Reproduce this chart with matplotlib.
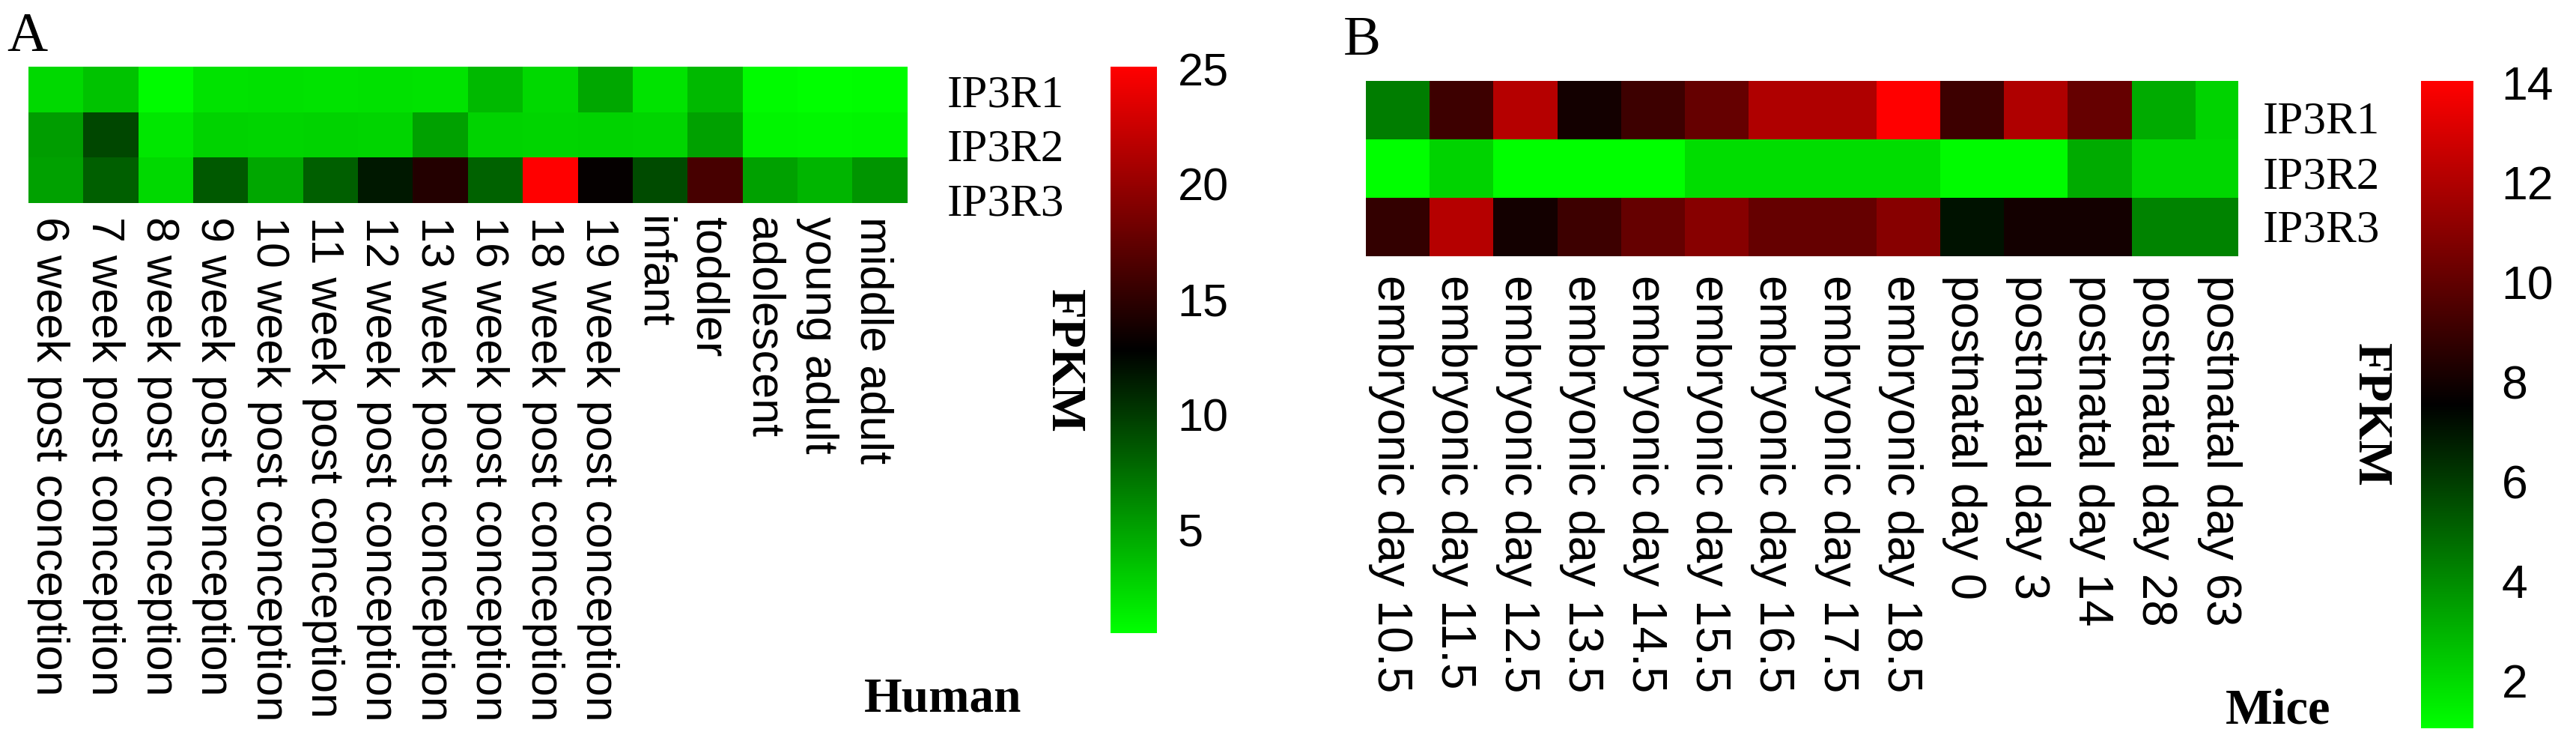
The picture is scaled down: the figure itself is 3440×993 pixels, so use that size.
import numpy as np
import matplotlib
matplotlib.use('Agg')
import matplotlib.pyplot as plt
from matplotlib.colors import LinearSegmentedColormap
from matplotlib.transforms import ScaledTranslation


# dados (FPKM)
genes = ['IP3R1', 'IP3R2', 'IP3R3']

human_stages = [
    '6 week post conception', '7 week post conception', '8 week post conception',
    '9 week post conception', '10 week post conception', '11 week post conception',
    '12 week post conception', '13 week post conception', '16 week post conception',
    '18 week post conception', '19 week post conception', 'infant', 'toddler',
    'adolescent', 'young adult', 'middle adult'
]
human_ip3r1 = [2.4, 3.4, 0.7, 1.9, 2.0, 1.9, 2.0, 1.9, 3.9, 2.4, 4.8, 1.9, 3.9, 0.7, 0.5, 0.6]
human_ip3r2 = [5.3, 9.4, 1.7, 2.7, 2.6, 2.7, 2.6, 5.1, 2.7, 2.6, 2.7, 2.6, 5.1, 1.0, 0.9, 1.0]
human_ip3r3 = [5.1, 8.2, 2.4, 8.5, 4.8, 8.2, 11.6, 14.5, 8.0, 25.1, 13.0, 9.2, 16.2, 5.1, 4.1, 5.6]
human_ticks = [5, 10, 15, 20, 25]

mice_stages = [
    'embryonic day 10.5', 'embryonic day 11.5', 'embryonic day 12.5',
    'embryonic day 13.5', 'embryonic day 14.5', 'embryonic day 15.5',
    'embryonic day 16.5', 'embryonic day 17.5', 'embryonic day 18.5',
    'postnatal day 0', 'postnatal day 3', 'postnatal day 14',
    'postnatal day 28', 'postnatal day 63'
]
mice_ip3r1 = [4.35, 9.06, 12.12, 8.04, 9.06, 10.08, 11.99, 11.99, 14.03, 9.06, 11.99, 10.08, 3.20, 2.19]
mice_ip3r2 = [1.04, 2.19, 1.04, 1.04, 1.04, 1.93, 1.93, 1.93, 1.93, 1.17, 1.17, 3.20, 2.06, 2.06]
mice_ip3r3 = [8.81, 12.12, 8.04, 9.06, 10.08, 10.97, 10.08, 10.08, 10.97, 7.03, 8.04, 8.04, 4.23, 4.23]
mice_ticks = [2, 4, 6, 8, 10, 12, 14]

SERIF = 'Liberation Serif'
SANS = 'Liberation Sans'

W, H = 3440, 993
cmap = LinearSegmentedColormap.from_list('gkr', ['#00ff00', '#000000', '#ff0000'])


def rect(x0, y0, x1, y1):
    # pixels (origem no topo) -> fração da figura
    return [x0 / W, 1 - y1 / H, (x1 - x0) / W, (y1 - y0) / H]


def heatmap(ax, cax, matriz, labels, ticks, fs_x, pad_x, fs_cb, pad_cb, xmax=None):
    im = ax.imshow(matriz, cmap=cmap, aspect='auto', interpolation='nearest',
                   vmin=matriz.min(), vmax=matriz.max())
    ax.set_yticks([])
    ax.set_xticks(range(len(labels)))
    ax.set_xticklabels(labels, rotation=270, ha='center', va='top',
                       family=SANS, fontsize=fs_x)
    ax.tick_params(axis='x', length=0, pad=pad_x)
    for lab in ax.get_xticklabels():
        lab.set_transform(lab.get_transform() + ScaledTranslation(-0.1, 0, fig.dpi_scale_trans))
    if xmax is not None:
        ax.set_xlim(-0.5, xmax)
    for s in ax.spines.values():
        s.set_visible(False)

    cb = fig.colorbar(im, cax=cax, ticks=ticks)
    cb.outline.set_visible(False)
    cax.tick_params(length=0, pad=pad_cb, labelsize=fs_cb)
    for lab in cax.get_yticklabels():
        lab.set_family(SANS)


fig = plt.figure(figsize=(W / 100, H / 100), dpi=100)

# painel A - humano
mat_h = np.array([human_ip3r1, human_ip3r2, human_ip3r3])
ax_a = fig.add_axes(rect(38, 89, 1212, 271))
cax_a = fig.add_axes(rect(1483, 89, 1545, 845))
heatmap(ax_a, cax_a, mat_h, human_stages, human_ticks, 44, 13, 44, 20)

# painel B - camundongo
mat_m = np.array([mice_ip3r1, mice_ip3r2, mice_ip3r3])
ax_b = fig.add_axes(rect(1824, 108, 2988, 342))
cax_b = fig.add_axes(rect(3233, 108, 3303, 972))
heatmap(ax_b, cax_b, mat_m, mice_stages, mice_ticks, 46, 18, 45, 27, xmax=13.17)

# textos
fig.text(9 / W, 1 - 68 / H, 'A', family=SERIF, fontsize=54, va='baseline')
fig.text(1794 / W, 1 - 73 / H, 'B', family=SERIF, fontsize=54, va='baseline')

for g, yb in zip(genes, [142, 215, 287]):
    fig.text(1265 / W, 1 - yb / H, g, family=SERIF, fontsize=44, va='baseline')
for g, yb in zip(genes, [177, 251, 323]):
    fig.text(3022 / W, 1 - yb / H, g, family=SERIF, fontsize=44, va='baseline')

fig.text(1420 / W, 1 - 482 / H, 'FPKM', family=SERIF, fontsize=47, fontweight='bold',
         rotation=270, ha='center', va='center')
fig.text(3165 / W, 1 - 554 / H, 'FPKM', family=SERIF, fontsize=47, fontweight='bold',
         rotation=270, ha='center', va='center')

fig.text(1154 / W, 1 - 950 / H, 'Human', family=SERIF, fontsize=47, fontweight='bold', va='baseline')
fig.text(2972 / W, 1 - 965 / H, 'Mice', family=SERIF, fontsize=48, fontweight='bold', va='baseline')

fig.savefig('out.png', dpi=100, facecolor='white')
